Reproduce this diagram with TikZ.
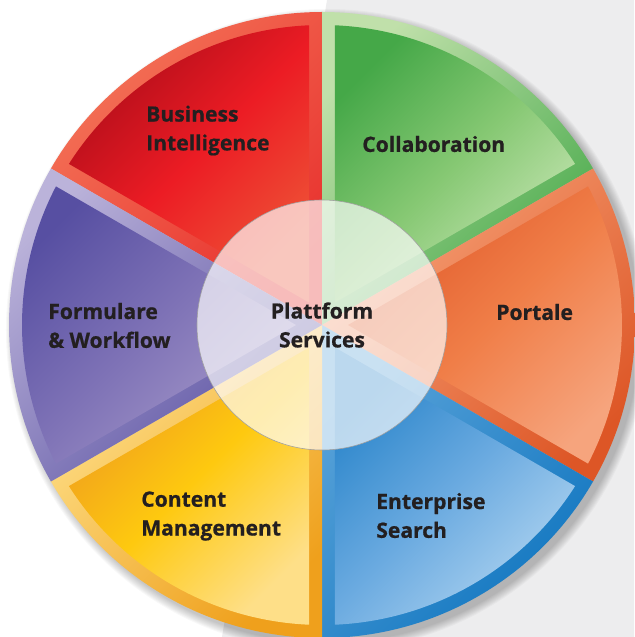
\documentclass[tikz,border=0pt]{standalone}
\usepackage{fontspec}
\setmainfont{Open Sans}[BoldFeatures={FakeBold=0.7}]
\usepackage{xcolor}
\usepackage{tikz}
\usetikzlibrary{calc}

\definecolor{txt}{HTML}{231F20}
\definecolor{bggray}{HTML}{EDEDEE}
% border colours (light / dark) and inner colours (start / mid / end)
\definecolor{biBl}{HTML}{F47458}\definecolor{biBd}{HTML}{E8312E}
\definecolor{biIa}{HTML}{B00D1A}\definecolor{biIb}{HTML}{EC1C24}\definecolor{biIc}{HTML}{EE5236}
\definecolor{coBl}{HTML}{C0E0AA}\definecolor{coBd}{HTML}{47A94A}
\definecolor{coIa}{HTML}{45A848}\definecolor{coIb}{HTML}{86C873}\definecolor{coIc}{HTML}{C8E6B5}
\definecolor{poBl}{HTML}{F7A278}\definecolor{poBd}{HTML}{DD5626}
\definecolor{poIa}{HTML}{E0592A}\definecolor{poIb}{HTML}{F07E48}\definecolor{poIc}{HTML}{F6A47D}
\definecolor{enBl}{HTML}{5AA3D9}\definecolor{enBd}{HTML}{1176C0}
\definecolor{enIa}{HTML}{2C86CB}\definecolor{enIb}{HTML}{6AAAE0}\definecolor{enIc}{HTML}{AED3F0}
\definecolor{cmBl}{HTML}{FEE08A}\definecolor{cmBd}{HTML}{EFA01C}
\definecolor{cmIa}{HTML}{EE9A1F}\definecolor{cmIb}{HTML}{FEC90F}\definecolor{cmIc}{HTML}{FEDF88}
\definecolor{fwBl}{HTML}{BBB3DA}\definecolor{fwBd}{HTML}{5A51A2}
\definecolor{fwIa}{HTML}{574FA2}\definecolor{fwIb}{HTML}{7E72B6}\definecolor{fwIc}{HTML}{A79ACA}

\begin{document}
\begin{tikzpicture}[
  x=0.025cm, y=0.025cm,
  lbl/.style={font=\fontsize{15}{20.5}\selectfont\bfseries, text=txt, align=left, anchor=west, inner sep=0pt},
  hub/.style={circle, minimum size=250*0.025cm, inner sep=0pt, fill=white, fill opacity=0.68, draw=gray!75, line width=0.4pt, text opacity=1, font=\fontsize{15}{20.5}\selectfont\bfseries, text=txt, align=center}
]
\useasboundingbox (-322,-312) rectangle (312,325);
\coordinate (c) at (0,0);

% page background
\fill[bggray] (5,325) -- (312,325) -- (312,-312) -- (-100,-312) -- cycle;

% soft shadow
\foreach \s in {1,...,9}
  \fill[black, opacity=0.028] (5,-5) circle (312+\s);

% six sectors: start angle / border light / border dark / inner a / inner b / inner c
\foreach \a/\bl/\bd/\ia/\ib/\ic in {
    90/biBl/biBd/biIa/biIb/biIc,
    30/coBl/coBd/coIa/coIb/coIc,
    -30/poBl/poBd/poIa/poIb/poIc,
    -90/enBl/enBd/enIa/enIb/enIc,
    -150/cmBl/cmBd/cmIa/cmIb/cmIc,
    150/fwBl/fwBd/fwIa/fwIb/fwIc} {
  \shade[top color=\bl, bottom color=\bd, shading angle=45]
    (c) -- (\a:313) arc[start angle=\a, end angle=\a+60, radius=313] -- cycle;
  \shade[top color=\ia, bottom color=\ic, middle color=\ib, shading angle=45]
    (\a+30:26) -- (\a+2.48:300) arc[start angle=\a+2.48, end angle=\a+57.52, radius=300] -- cycle;
}

\node[hub] (core) at (c) {Plattform\\Services};

\node[lbl] (bi) at (-176,194.5) {Business\\Intelligence};
\node[lbl] (collab) at (40,181) {Collaboration};
\node[lbl] (portal) at (174,13) {Portale};
\node[lbl] (search) at (54,-190.5) {Enterprise\\Search};
\node[lbl] (cms) at (-181,-191) {Content\\Management};
\node[lbl] (flow) at (-274,-0.5) {Formulare\\\& Workflow};
\end{tikzpicture}
\end{document}
